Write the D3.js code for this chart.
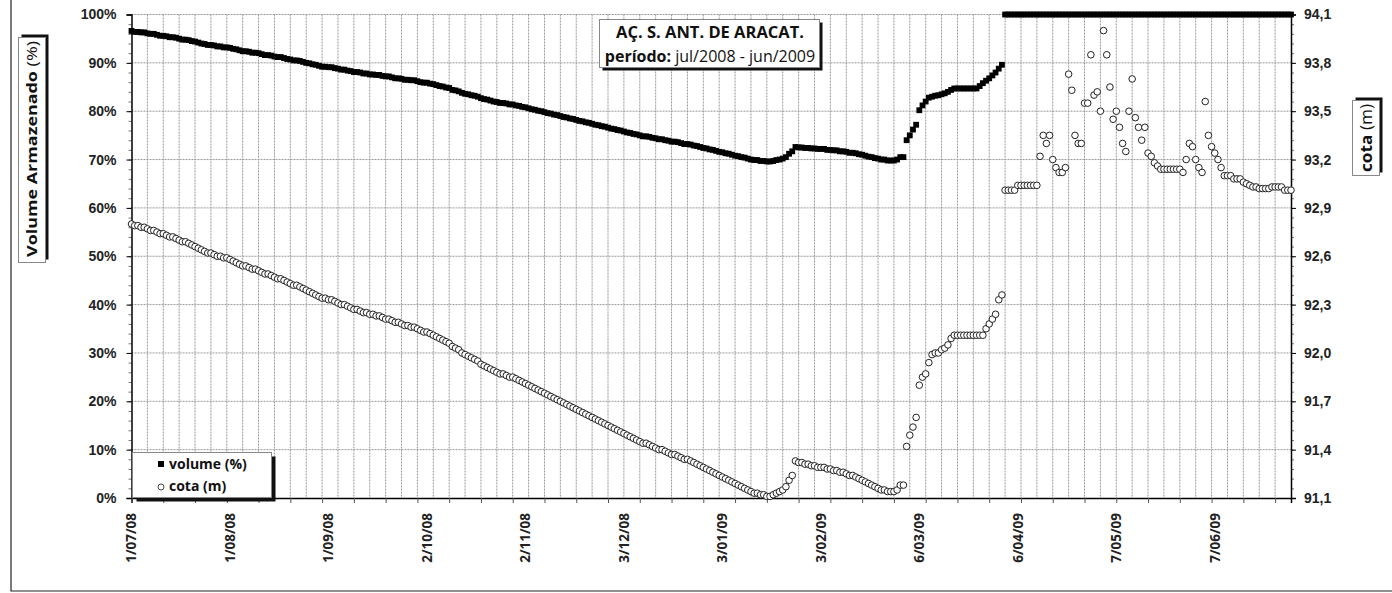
<!DOCTYPE html>
<html>
<head>
<meta charset="utf-8">
<script src="https://cdn.jsdelivr.net/npm/d3@7"></script>
<style>
  body { margin: 0; background: #fff; }
  svg { display: block; font-family: "Open Sans", "DejaVu Sans", sans-serif; }
</style>
</head>
<body>
<script>
// ---- data ----
const startLabel = "1/07/08";
const endLabel = "1/07/09";
const xLabels = ["1/07/08", "1/08/08", "1/09/08", "2/10/08", "2/11/08", "3/12/08",
  "3/01/09", "3/02/09", "6/03/09", "6/04/09", "7/05/09", "7/06/09"];
const volTicks = [0, 10, 20, 30, 40, 50, 60, 70, 80, 90, 100];
const cotaTicks = [91.1, 91.4, 91.7, 92.0, 92.3, 92.6, 92.9, 93.2, 93.5, 93.8, 94.1];

// volume (%) one value per day from 1/07/08
const volume = [
  96.6, 96.4, 96.4, 96.3, 96.3, 96.1, 96.0, 96.0, 95.8, 95.6,
  95.6, 95.5, 95.3, 95.3, 95.2, 95.0, 94.8, 94.8, 94.7, 94.5,
  94.4, 94.2, 94.0, 93.9, 93.7, 93.7, 93.6, 93.4, 93.4, 93.2,
  93.2, 93.1, 92.9, 92.8, 92.6, 92.4, 92.4, 92.3, 92.1, 92.1,
  92.0, 91.8, 91.6, 91.6, 91.5, 91.3, 91.2, 91.2, 91.0, 90.8,
  90.7, 90.5, 90.5, 90.4, 90.2, 90.0, 89.9, 89.7, 89.6, 89.4,
  89.2, 89.2, 89.1, 89.1, 88.9, 88.8, 88.6, 88.6, 88.4, 88.3,
  88.1, 88.1, 88.0, 87.8, 87.8, 87.6, 87.6, 87.5, 87.5, 87.3,
  87.2, 87.2, 87.0, 86.8, 86.8, 86.7, 86.5, 86.5, 86.4, 86.4,
  86.2, 86.0, 85.9, 85.9, 85.7, 85.6, 85.4, 85.2, 85.1, 84.9,
  84.8, 84.4, 84.3, 84.1, 83.8, 83.6, 83.5, 83.3, 83.2, 83.0,
  82.7, 82.5, 82.4, 82.2, 82.0, 81.9, 81.7, 81.7, 81.6, 81.4,
  81.4, 81.2, 81.1, 80.9, 80.8, 80.6, 80.4, 80.3, 80.1, 80.0,
  79.8, 79.6, 79.5, 79.3, 79.2, 79.0, 78.8, 78.7, 78.5, 78.4,
  78.2, 78.0, 77.9, 77.7, 77.6, 77.4, 77.2, 77.1, 76.9, 76.8,
  76.6, 76.4, 76.3, 76.1, 76.0, 75.8, 75.6, 75.5, 75.3, 75.2,
  75.0, 74.8, 74.8, 74.7, 74.5, 74.4, 74.2, 74.2, 74.0, 73.9,
  73.7, 73.7, 73.6, 73.4, 73.2, 73.2, 73.1, 72.9, 72.8, 72.6,
  72.4, 72.3, 72.1, 72.0, 71.8, 71.6, 71.5, 71.3, 71.2, 71.0,
  70.8, 70.7, 70.5, 70.4, 70.2, 70.0, 69.9, 69.9, 69.7, 69.7,
  69.6, 69.6, 69.7, 69.9, 70.0, 70.2, 70.5, 71.2, 71.7, 72.6,
  72.5, 72.5, 72.4, 72.4, 72.3, 72.3, 72.2, 72.2, 72.2, 72.0,
  72.0, 71.9, 71.9, 71.7, 71.7, 71.6, 71.4, 71.4, 71.3, 71.1,
  71.0, 70.8, 70.6, 70.5, 70.3, 70.2, 70.0, 70.0, 69.8, 69.8,
  69.8, 70.0, 70.5, 70.5, 74.0, 75.0, 76.2, 77.2, 80.2, 81.2,
  82.0, 82.8, 83.0, 83.2, 83.3, 83.5, 83.7, 84.0, 84.4, 84.7,
  84.7, 84.7, 84.7, 84.7, 84.7, 84.7, 84.7, 85.2, 85.8, 86.3,
  86.8, 87.4, 88.0, 88.8, 89.6, 100, 100, 100, 100, 100,
  100, 100, 100, 100, 100, 100, 100, 100, 100, 100,
  100, 100, 100, 100, 100, 100, 100, 100, 100, 100,
  100, 100, 100, 100, 100, 100, 100, 100, 100, 100,
  100, 100, 100, 100, 100, 100, 100, 100, 100, 100,
  100, 100, 100, 100, 100, 100, 100, 100, 100, 100,
  100, 100, 100, 100, 100, 100, 100, 100, 100, 100,
  100, 100, 100, 100, 100, 100, 100, 100, 100, 100,
  100, 100, 100, 100, 100, 100, 100, 100, 100, 100,
  100, 100, 100, 100, 100, 100
];

// cota (m) one value per day from 1/07/08
const cota = [
  92.80, 92.79, 92.79, 92.78, 92.78, 92.77, 92.76, 92.76, 92.75, 92.74,
  92.74, 92.73, 92.72, 92.72, 92.71, 92.70, 92.69, 92.69, 92.68, 92.67,
  92.66, 92.65, 92.64, 92.63, 92.62, 92.62, 92.61, 92.60, 92.60, 92.59,
  92.59, 92.58, 92.57, 92.56, 92.55, 92.54, 92.54, 92.53, 92.52, 92.52,
  92.51, 92.50, 92.49, 92.49, 92.48, 92.47, 92.46, 92.46, 92.45, 92.44,
  92.43, 92.42, 92.42, 92.41, 92.40, 92.39, 92.38, 92.37, 92.36, 92.35,
  92.34, 92.34, 92.33, 92.33, 92.32, 92.31, 92.30, 92.30, 92.29, 92.28,
  92.27, 92.27, 92.26, 92.25, 92.25, 92.24, 92.24, 92.23, 92.23, 92.22,
  92.21, 92.21, 92.20, 92.19, 92.19, 92.18, 92.17, 92.17, 92.16, 92.16,
  92.15, 92.14, 92.13, 92.13, 92.12, 92.11, 92.10, 92.09, 92.08, 92.07,
  92.06, 92.04, 92.03, 92.02, 92.00, 91.99, 91.98, 91.97, 91.96, 91.95,
  91.93, 91.92, 91.91, 91.90, 91.89, 91.88, 91.87, 91.87, 91.86, 91.85,
  91.85, 91.84, 91.83, 91.82, 91.81, 91.80, 91.79, 91.78, 91.77, 91.76,
  91.75, 91.74, 91.73, 91.72, 91.71, 91.70, 91.69, 91.68, 91.67, 91.66,
  91.65, 91.64, 91.63, 91.62, 91.61, 91.60, 91.59, 91.58, 91.57, 91.56,
  91.55, 91.54, 91.53, 91.52, 91.51, 91.50, 91.49, 91.48, 91.47, 91.46,
  91.45, 91.44, 91.44, 91.43, 91.42, 91.41, 91.40, 91.40, 91.39, 91.38,
  91.37, 91.37, 91.36, 91.35, 91.34, 91.34, 91.33, 91.32, 91.31, 91.30,
  91.29, 91.28, 91.27, 91.26, 91.25, 91.24, 91.23, 91.22, 91.21, 91.20,
  91.19, 91.18, 91.17, 91.16, 91.15, 91.14, 91.13, 91.13, 91.12, 91.12,
  91.11, 91.11, 91.12, 91.13, 91.14, 91.15, 91.17, 91.21, 91.24, 91.33,
  91.32, 91.32, 91.31, 91.31, 91.30, 91.30, 91.29, 91.29, 91.29, 91.28,
  91.28, 91.27, 91.27, 91.26, 91.26, 91.25, 91.24, 91.24, 91.23, 91.22,
  91.21, 91.20, 91.19, 91.18, 91.17, 91.16, 91.15, 91.15, 91.14, 91.14,
  91.14, 91.15, 91.18, 91.18, 91.42, 91.49, 91.54, 91.60, 91.80, 91.85,
  91.87, 91.94, 91.99, 92.00, 92.00, 92.02, 92.03, 92.05, 92.09, 92.11,
  92.11, 92.11, 92.11, 92.11, 92.11, 92.11, 92.11, 92.11, 92.11, 92.15,
  92.18, 92.21, 92.24, 92.33, 92.36, 93.01, 93.01, 93.01, 93.01, 93.04,
  93.04, 93.04, 93.04, 93.04, 93.04, 93.04, 93.22, 93.35, 93.30, 93.35,
  93.20, 93.15, 93.12, 93.12, 93.15, 93.73, 93.63, 93.35, 93.30, 93.30,
  93.55, 93.55, 93.85, 93.60, 93.62, 93.50, 94.00, 93.85, 93.65, 93.45,
  93.50, 93.40, 93.30, 93.25, 93.50, 93.70, 93.46, 93.40, 93.32, 93.40,
  93.24, 93.22, 93.18, 93.16, 93.14, 93.14, 93.14, 93.14, 93.14, 93.14,
  93.14, 93.12, 93.20, 93.30, 93.28, 93.20, 93.15, 93.12, 93.56, 93.35,
  93.28, 93.24, 93.20, 93.15, 93.10, 93.10, 93.10, 93.08, 93.08, 93.08,
  93.06, 93.05, 93.04, 93.03, 93.03, 93.02, 93.02, 93.02, 93.02, 93.03,
  93.03, 93.03, 93.03, 93.01, 93.01, 93.01
];

// ---- layout ----
const width = 1392;
const height = 593;
const plot = { left: 131.5, right: 1291, top: 14.5, bottom: 498 };

const parseDate = d3.utcParse("%d/%m/%y");
const startDate = parseDate(startLabel);
const endDate = parseDate(endLabel);
const dayOf = (i) => d3.utcDay.offset(startDate, i);

const x = d3.scaleUtc().domain([startDate, endDate]).range([plot.left, plot.right]);
const yVol = d3.scaleLinear().domain([0, 100]).range([plot.bottom, plot.top]);
const yCota = d3.scaleLinear().domain([91.1, 94.1]).range([plot.bottom, plot.top]);

const svg = d3
  .select("body")
  .append("svg")
  .attr("width", width)
  .attr("height", height);

// chart area frame (only left and bottom edges are visible)
svg
  .append("path")
  .attr("d", `M11,0V591H${width}`)
  .attr("fill", "none")
  .attr("stroke", "#222")
  .attr("stroke-width", 1.2);

// grid
const grid = svg.append("g").attr("stroke", "#999").attr("stroke-dasharray", "2,1");
grid
  .selectAll("line.v")
  .data(d3.range(5, 365, 5).map(dayOf))
  .join("line")
  .attr("x1", (d) => x(d))
  .attr("x2", (d) => x(d))
  .attr("y1", plot.top)
  .attr("y2", plot.bottom);
grid
  .selectAll("line.h")
  .data(volTicks.slice(1))
  .join("line")
  .attr("x1", plot.left)
  .attr("x2", plot.right)
  .attr("y1", (d) => yVol(d))
  .attr("y2", (d) => yVol(d));

// axes
const fmtCota = (d) => d3.format(".1f")(d).replace(".", ",");

function styleAxis(g) {
  g.select(".domain").attr("stroke", "#000").attr("stroke-width", 1.5);
  g.selectAll(".tick line").attr("stroke", "#000");
  g.selectAll("text")
    .attr("font-weight", "bold")
    .attr("font-size", "14px")
    .attr("fill", "#222");
}

// minor ticks first
svg
  .append("g")
  .attr("transform", `translate(${plot.left},0)`)
  .call(d3.axisLeft(yVol).tickValues(d3.range(0, 101, 2)).tickSize(3).tickFormat(""))
  .call((g) => g.select(".domain").remove())
  .call((g) => g.selectAll(".tick line").attr("stroke", "#777"));
svg
  .append("g")
  .attr("transform", `translate(${plot.right},0)`)
  .call(d3.axisRight(yCota).tickValues(d3.range(0, 51).map((i) => 91.1 + i * 0.06)).tickSize(3).tickFormat(""))
  .call((g) => g.select(".domain").remove())
  .call((g) => g.selectAll(".tick line").attr("stroke", "#777"));

svg
  .append("g")
  .attr("transform", `translate(${plot.left},0)`)
  .call(d3.axisLeft(yVol).tickValues(volTicks).tickSize(5).tickPadding(10).tickFormat((d) => d + "%"))
  .call(styleAxis);

svg
  .append("g")
  .attr("transform", `translate(${plot.right},0)`)
  .call(d3.axisRight(yCota).tickValues(cotaTicks).tickSize(5).tickPadding(8).tickFormat(fmtCota))
  .call(styleAxis);

svg
  .append("g")
  .attr("transform", `translate(0,${plot.bottom})`)
  .call(d3.axisBottom(x).tickValues(d3.range(0, 366, 10).map(dayOf)).tickSize(5).tickFormat(""))
  .call((g) => g.select(".domain").attr("stroke", "#000").attr("stroke-width", 1.5))
  .call((g) => g.selectAll(".tick line").attr("stroke", "#555"));

// rotated date labels
svg
  .append("g")
  .selectAll("text")
  .data(xLabels)
  .join("text")
  .attr("transform", (d) => `translate(${x(parseDate(d))},513) rotate(-90)`)
  .attr("text-anchor", "end")
  .attr("dy", "0.36em")
  .attr("font-weight", "bold")
  .attr("font-size", "13.5px")
  .attr("fill", "#222")
  .text((d) => d);

// ---- series ----
const sq = 5.8;
svg
  .append("g")
  .selectAll("rect")
  .data(volume)
  .join("rect")
  .attr("x", (d, i) => x(dayOf(i)) - sq / 2)
  .attr("y", (d) => yVol(d) - sq / 2)
  .attr("width", sq)
  .attr("height", sq)
  .attr("fill", "#000");

svg
  .append("g")
  .selectAll("circle")
  .data(cota)
  .join("circle")
  .attr("cx", (d, i) => x(dayOf(i)))
  .attr("cy", (d) => yCota(d))
  .attr("r", 3.3)
  .attr("fill", "#fff")
  .attr("stroke", "#222")
  .attr("stroke-width", 1);

// ---- boxes with shadow ----
function shadowBox(x0, y0, w, h, dx, dy) {
  svg.append("rect").attr("x", x0 + dx).attr("y", y0 + dy).attr("width", w).attr("height", h).attr("fill", "#111");
  svg
    .append("rect")
    .attr("x", x0)
    .attr("y", y0)
    .attr("width", w)
    .attr("height", h)
    .attr("fill", "#fff")
    .attr("stroke", "#888")
    .attr("stroke-width", 1);
}

// title
shadowBox(599.5, 19.5, 220, 48, 3, 3);
const title = svg.append("g").attr("text-anchor", "middle").attr("fill", "#111");
title
  .append("text")
  .attr("x", 710)
  .attr("y", 38)
  .attr("font-weight", "bold")
  .attr("font-size", "16.5px")
  .text("AÇ. S. ANT. DE ARACAT.");
const t2 = title.append("text").attr("x", 710).attr("y", 62).attr("font-size", "16px");
t2.append("tspan").attr("font-weight", "bold").text("período:");
t2.append("tspan").text(" jul/2008 - jun/2009");

// left axis title
shadowBox(18.5, 37.5, 27, 225, 3, -3);
const lt = svg
  .append("text")
  .attr("transform", "translate(32,149) rotate(-90)")
  .attr("text-anchor", "middle")
  .attr("dy", "0.36em")
  .attr("font-size", "15px")
  .attr("textLength", 216)
  .attr("lengthAdjust", "spacingAndGlyphs")
  .attr("fill", "#111");
lt.append("tspan").attr("font-weight", "bold").text("Volume Armazenado");
lt.append("tspan").text(" (%)");

// right axis title
shadowBox(1352.5, 100.5, 27, 75, 3, -3);
const rt = svg
  .append("text")
  .attr("transform", "translate(1366,138) rotate(-90)")
  .attr("text-anchor", "middle")
  .attr("dy", "0.36em")
  .attr("font-size", "16px")
  .attr("textLength", 68)
  .attr("lengthAdjust", "spacingAndGlyphs")
  .attr("fill", "#111");
rt.append("tspan").attr("font-weight", "bold").text("cota");
rt.append("tspan").text(" (m)");

// legend
shadowBox(132.5, 452.5, 139, 45, 4, 4);
const legend = svg.append("g").attr("font-weight", "bold").attr("font-size", "14px").attr("fill", "#111");
legend.append("rect").attr("x", 158).attr("y", 461).attr("width", 6).attr("height", 6).attr("fill", "#000");
legend.append("text").attr("x", 169).attr("y", 464).attr("dy", "0.36em").text("volume (%)");
legend
  .append("circle")
  .attr("cx", 161)
  .attr("cy", 487)
  .attr("r", 3)
  .attr("fill", "#fff")
  .attr("stroke", "#333")
  .attr("stroke-width", 0.9);
legend.append("text").attr("x", 169).attr("y", 486).attr("dy", "0.36em").text("cota (m)");
</script>
</body>
</html>
